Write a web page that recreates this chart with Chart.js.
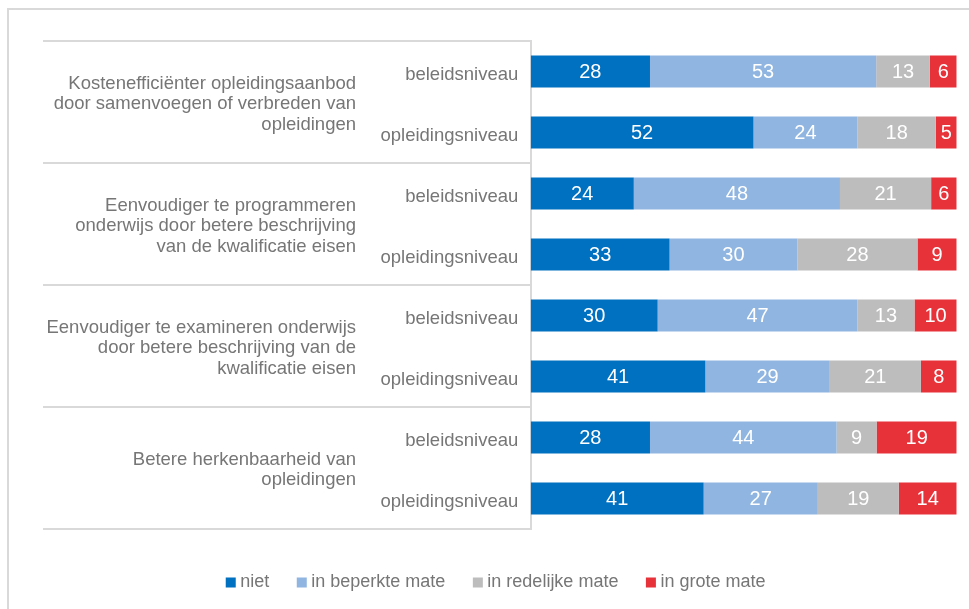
<!DOCTYPE html>
<html>
<head>
<meta charset="utf-8">
<script src="https://cdn.jsdelivr.net/npm/chart.js@4.4.1/dist/chart.umd.min.js"></script>
<style>
  html, body { margin: 0; padding: 0; background: #ffffff; overflow: hidden; }
  #wrap { position: relative; width: 969px; height: 609px; }
  #frame { position: absolute; left: 7px; top: 8px; width: 2000px; height: 2000px;
           border-left: 2px solid #d9d9d9; border-top: 2px solid #d9d9d9; z-index: 0; }
  #c { position: absolute; left: 0; top: 0; z-index: 1; }
</style>
</head>
<body>
<div id="wrap">
  <div id="frame"></div>
  <canvas id="c" width="969" height="609"></canvas>
</div>
<script>
// ---- data ----
const groups = [
  ["Kostenefficiënter opleidingsaanbod", "door samenvoegen of verbreden van", "opleidingen"],
  ["Eenvoudiger te programmeren", "onderwijs door betere beschrijving", "van de kwalificatie eisen"],
  ["Eenvoudiger te examineren onderwijs", "door betere beschrijving van de", "kwalificatie eisen"],
  ["Betere herkenbaarheid van", "opleidingen"]
];
const levels = ["beleidsniveau", "opleidingsniveau"];
const seriesNames = ["niet", "in beperkte mate", "in redelijke mate", "in grote mate"];
const niet      = [28.0, 52.3, 24.2, 32.6, 29.8, 41.0, 28.0, 40.6];
const beperkt   = [53.1, 24.4, 48.4, 30.0, 46.9, 29.2, 43.8, 26.8];
const redelijk  = [12.6, 18.4, 21.4, 28.2, 13.4, 21.4,  9.4, 19.0];
const groot     = [ 6.3,  4.9,  6.0,  9.2,  9.9,  8.4, 18.8, 13.6];
const colors = ["#0070C0", "#8FB5E0", "#BDBDBD", "#E8323A"];

const rowLabels = [];
groups.forEach(() => levels.forEach(l => rowLabels.push(l)));

const FONT = "'Liberation Sans', Arial, sans-serif";
const TEXT = "#767676";

const groupPlugin = {
  id: 'groupLabels',
  afterDraw(chart) {
    const ctx = chart.ctx, y = chart.scales.y, area = chart.chartArea;
    const xStart = area.left - 487.7;
    ctx.save();
    // separator lines
    ctx.strokeStyle = '#d9d9d9';
    ctx.lineWidth = 2;
    const bounds = [y.top];
    for (let g = 0; g < groups.length - 1; g++) {
      const a = y.getPixelForValue(g * 2 + 1), b = y.getPixelForValue(g * 2 + 2);
      bounds.push((a + b) / 2);
    }
    bounds.push(y.bottom);
    bounds.forEach(p => {
      ctx.beginPath(); ctx.moveTo(xStart, p); ctx.lineTo(area.left, p); ctx.stroke();
    });
    // group labels
    ctx.fillStyle = TEXT;
    ctx.font = "18.5px " + FONT;
    ctx.textAlign = 'right';
    ctx.textBaseline = 'middle';
    const lh = 20.5;
    groups.forEach((lines, g) => {
      const c = (y.getPixelForValue(g * 2) + y.getPixelForValue(g * 2 + 1)) / 2 + 2;
      const start = c - (lines.length - 1) * lh / 2;
      lines.forEach((t, i) => ctx.fillText(t, area.left - 174.7, start + i * lh));
    });
    ctx.restore();
  }
};

const valuePlugin = {
  id: 'valueLabels',
  afterDatasetsDraw(chart) {
    const ctx = chart.ctx;
    ctx.save();
    ctx.fillStyle = '#ffffff';
    ctx.font = "20px " + FONT;
    ctx.textAlign = 'center';
    ctx.textBaseline = 'middle';
    chart.data.datasets.forEach((ds, i) => {
      const meta = chart.getDatasetMeta(i);
      meta.data.forEach((el, j) => {
        const v = ds.data[j];
        ctx.fillText(String(Math.round(v)), (el.x + el.base) / 2, el.y + 1);
      });
    });
    ctx.restore();
  }
};

new Chart(document.getElementById('c'), {
  type: 'bar',
  data: {
    labels: rowLabels,
    datasets: [niet, beperkt, redelijk, groot].map((d, i) => ({
      label: seriesNames[i],
      data: d,
      backgroundColor: colors[i],
      borderWidth: 0,
      barPercentage: 0.525,
      categoryPercentage: 1.0
    }))
  },
  options: {
    indexAxis: 'y',
    responsive: false,
    animation: false,
    layout: { padding: { left: 39, right: 12.3, top: 41, bottom: 7.5 } },
    scales: {
      x: {
        stacked: true, min: 0, max: 100,
        display: true,
        ticks: { display: false },
        grid: { display: false, drawTicks: false },
        border: { display: false },
        afterFit(s) { s.height = 12.5; }
      },
      y: {
        stacked: true,
        ticks: { color: TEXT, font: { family: FONT, size: 18.5 }, padding: 12.4, labelOffset: 3 },
        grid: { drawOnChartArea: false, drawTicks: false, color: '#d9d9d9' },
        border: { display: true, color: '#d9d9d9', width: 2 },
        afterFit(s) { s.width = 491.7; }
      }
    },
    plugins: {
      tooltip: { enabled: false },
      legend: {
        position: 'bottom',
        labels: {
          color: TEXT,
          font: { family: FONT, size: 18 },
          usePointStyle: true,
          pointStyle: 'rect',
          boxWidth: 1,
          boxHeight: 10,
          padding: 32
        }
      }
    }
  },
  plugins: [groupPlugin, valuePlugin]
});
</script>
</body>
</html>
